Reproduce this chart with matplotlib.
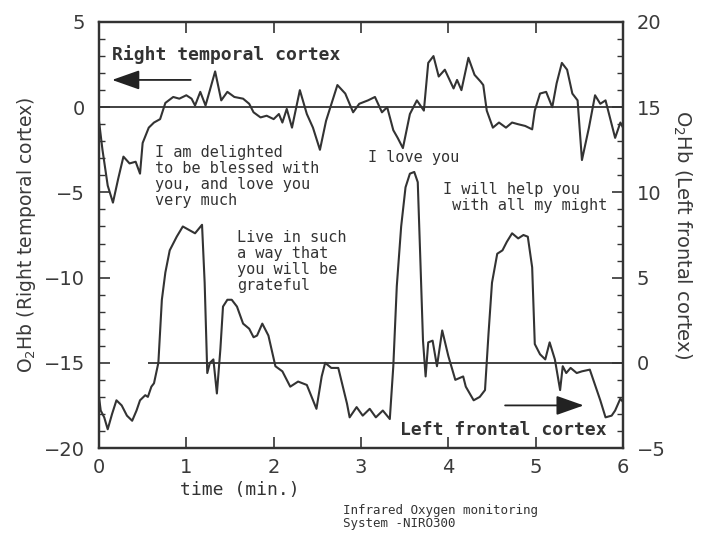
import numpy as np
import matplotlib
matplotlib.use('Agg')
import matplotlib.pyplot as plt
from matplotlib.ticker import MultipleLocator

# Right temporal cortex trace (left axis)
upper_t = [0.00, 0.04, 0.10, 0.16, 0.22, 0.28, 0.35, 0.42, 0.47, 0.50, 0.57, 0.63, 0.70, 0.76, 0.85,
           0.92, 1.00, 1.06, 1.10, 1.16, 1.22, 1.27, 1.33, 1.40, 1.47, 1.55, 1.65, 1.72, 1.77, 1.85,
           1.92, 2.00, 2.06, 2.10, 2.15, 2.21, 2.30, 2.38, 2.45, 2.53, 2.60, 2.73, 2.82, 2.91, 2.98,
           3.08, 3.16, 3.24, 3.30, 3.37, 3.42, 3.48, 3.56, 3.64, 3.72, 3.77, 3.83, 3.89, 3.96, 4.06,
           4.10, 4.15, 4.23, 4.30, 4.37, 4.40, 4.44, 4.51, 4.58, 4.66, 4.73, 4.80, 4.88, 4.96, 4.99,
           5.05, 5.12, 5.19, 5.24, 5.30, 5.36, 5.42, 5.48, 5.53, 5.61, 5.68, 5.74, 5.80, 5.86, 5.91,
           5.97, 6.00]
upper_v = [-0.8, -2.5, -4.6, -5.6, -4.2, -2.9, -3.3, -3.2, -3.9, -2.1, -1.2, -0.9, -0.7, 0.25, 0.6,
           0.5, 0.7, 0.5, 0.1, 0.9, 0.1, 1.0, 2.1, 0.4, 0.9, 0.6, 0.5, 0.2, -0.3, -0.6,
           -0.5, -0.7, -0.4, -0.9, -0.1, -1.2, 1.0, -0.4, -1.2, -2.5, -0.8, 1.3, 0.8, -0.3, 0.2,
           0.4, 0.6, -0.3, 0.0, -1.35, -1.8, -2.4, -0.4, 0.4, -0.2, 2.6, 3.0, 1.8, 2.2, 1.1,
           1.6, 1.0, 2.9, 1.9, 1.5, 1.3, -0.2, -1.2, -0.9, -1.2, -0.9, -1.0, -1.1, -1.3, -0.2,
           0.8, 0.9, 0.0, 1.4, 2.6, 2.2, 0.8, 0.4, -3.1, -1.2, 0.7, 0.2, 0.4, -0.8, -1.8,
           -0.9, -1.2]

# Left frontal cortex trace (right axis)
lower_t = [0.00, 0.02, 0.06, 0.10, 0.15, 0.20, 0.26, 0.32, 0.38, 0.43, 0.47, 0.53, 0.56, 0.60, 0.63,
           0.68, 0.72, 0.76, 0.81, 0.89, 0.96, 1.03, 1.10, 1.18, 1.21, 1.24, 1.27, 1.31, 1.35, 1.39,
           1.42, 1.47, 1.52, 1.58, 1.65, 1.72, 1.77, 1.81, 1.87, 1.94, 2.02, 2.10, 2.19, 2.28, 2.38,
           2.49, 2.55, 2.59, 2.66, 2.74, 2.84, 2.87, 2.95, 3.02, 3.10, 3.17, 3.25, 3.33, 3.37, 3.41,
           3.46, 3.51, 3.56, 3.61, 3.65, 3.68, 3.71, 3.74, 3.77, 3.82, 3.87, 3.93, 4.00, 4.08, 4.17,
           4.20, 4.29, 4.36, 4.42, 4.46, 4.50, 4.56, 4.62, 4.67, 4.73, 4.80, 4.86, 4.91, 4.96, 4.99,
           5.05, 5.11, 5.16, 5.22, 5.28, 5.31, 5.35, 5.40, 5.47, 5.53, 5.62, 5.68, 5.74, 5.80, 5.87,
           5.91, 5.97, 6.00]
lower_r = [-2.0, -2.8, -3.2, -3.9, -3.0, -2.2, -2.5, -3.1, -3.4, -2.8, -2.2, -1.9, -2.0, -1.4, -1.2,
           0.0, 3.7, 5.3, 6.6, 7.4, 8.0, 7.8, 7.6, 8.1, 4.7, -0.6, 0.0, 0.2, -1.8, 0.8,
           3.3, 3.7, 3.7, 3.3, 2.3, 2.0, 1.5, 1.6, 2.3, 1.6, -0.2, -0.5, -1.4, -1.1, -1.3,
           -2.7, -0.8, 0.0, -0.3, -0.3, -2.4, -3.2, -2.6, -3.1, -2.7, -3.2, -2.8, -3.3, -0.2, 4.5,
           8.0, 10.3, 11.1, 11.2, 10.6, 6.0, 1.3, -0.8, 1.2, 1.3, -0.2, 1.9, 0.4, -1.0, -0.8,
           -1.4, -2.2, -2.0, -1.6, 1.7, 4.7, 6.4, 6.6, 7.1, 7.6, 7.3, 7.5, 7.4, 5.6, 1.1,
           0.5, 0.2, 1.2, 0.2, -1.6, -0.2, -0.6, -0.3, -0.6, -0.5, -0.4, -1.3, -2.2, -3.2, -3.1,
           -2.8, -2.1, -2.3]

x_ticks = [0, 1, 2, 3, 4, 5, 6]
left_ticks = [-20, -15, -10, -5, 0, 5]
right_ticks = [-5, 0, 5, 10, 15, 20]

ink = '#333333'
mono = 'DejaVu Sans Mono'

fig = plt.figure(figsize=(7.09, 5.39), dpi=100)
ax = fig.add_axes([0.1396, 0.1688, 0.7391, 0.7904])
ax2 = ax.twinx()

ax.plot(upper_t, upper_v, color=ink, lw=1.5)
ax.axhline(0, color=ink, lw=1.3)
ax2.plot(lower_t, lower_r, color=ink, lw=1.5)
ax2.hlines(0, 0.56, 6, color=ink, lw=1.3)

ax.set_xlim(0, 6)
ax.set_ylim(-20, 5)
ax2.set_ylim(-5, 20)
ax.set_xticks(x_ticks)
ax.set_yticks(left_ticks)
ax2.set_yticks(right_ticks)
ax.set_yticklabels(['\u221220', '\u221215', '\u221210', '\u22125', '0', '5'])
ax2.set_yticklabels(['\u22125', '0', '5', '10', '15', '20'])
ax.yaxis.set_minor_locator(MultipleLocator(1))
ax2.yaxis.set_minor_locator(MultipleLocator(1))

for a in (ax, ax2):
    for s in a.spines.values():
        s.set_color(ink)
        s.set_linewidth(1.6)
    a.tick_params(which='major', direction='in', length=8, width=1.2, color=ink,
                  labelsize=14, labelcolor='#3a3a3a', pad=10)
    a.tick_params(which='minor', direction='in', length=4, width=1.0, color=ink)
ax.tick_params(axis='x', top=True, pad=7)

ax.set_ylabel('O$_2$Hb (Right temporal cortex)', fontsize=13.5, color='#3a3a3a', labelpad=4)
ax2.set_ylabel('O$_2$Hb (Left frontal cortex)', fontsize=14, color='#3a3a3a',
               rotation=270, labelpad=20)

# labels for the two traces with their arrows
ax.text(0.15, 3.1, 'Right temporal cortex', family=mono, fontweight='bold',
        fontsize=13, color=ink, va='center')
ax.annotate('', xy=(0.15, 1.6), xytext=(1.05, 1.6),
            arrowprops=dict(arrowstyle='-|>,head_length=1.7,head_width=0.6',
                            color='#222222', lw=1.3, shrinkA=0, shrinkB=0))
ax2.text(3.45, -3.95, 'Left frontal cortex', family=mono, fontweight='bold',
         fontsize=13, color=ink, va='center')
ax2.annotate('', xy=(5.55, -2.5), xytext=(4.65, -2.5),
             arrowprops=dict(arrowstyle='-|>,head_length=1.7,head_width=0.6',
                             color='#222222', lw=1.3, shrinkA=0, shrinkB=0))

# spoken phrases
ax.text(0.64, -2.2, 'I am delighted\nto be blessed with\nyou, and love you\nvery much',
        family=mono, fontsize=11, color=ink, va='top', linespacing=1.1)
ax.text(1.58, -7.2, 'Live in such\na way that\nyou will be\ngrateful',
        family=mono, fontsize=11, color=ink, va='top', linespacing=1.1)
ax.text(3.08, -2.95, 'I love you', family=mono, fontsize=11, color=ink, va='center')
ax.text(3.94, -4.4, 'I will help you\n with all my might', family=mono, fontsize=11,
        color=ink, va='top', linespacing=1.1)

fig.text(240 / 709, 1 - 490 / 539, 'time (min.)', family=mono, fontsize=13,
         color=ink, ha='center', va='center')
fig.text(343 / 709, 1 - 517 / 539, 'Infrared Oxygen monitoring\nSystem -NIRO300',
         family=mono, fontsize=9, color=ink, ha='left', va='center', linespacing=1.0)

fig.savefig('out.png', dpi=100)
